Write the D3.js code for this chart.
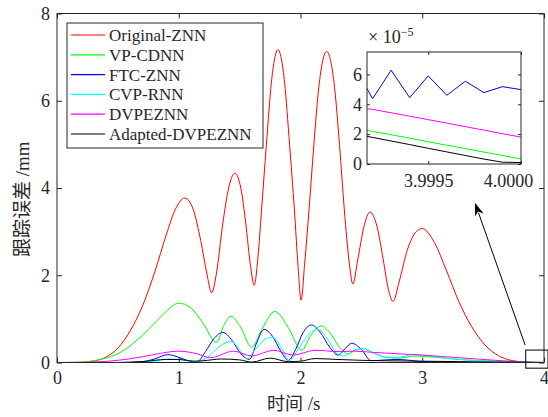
<!DOCTYPE html>
<html>
<head>
<meta charset="utf-8">
<script src="https://d3js.org/d3.v7.min.js"></script>
<style>
  body { margin: 0; background: #fff; }
  svg { display: block; }
  .tick line { stroke: #262626; }
  svg .tick text { font-family: "Liberation Serif", "DejaVu Serif", serif !important; }
</style>
</head>
<body>
<div id="chart"></div>
<script>
// ---- data ----
var names  = ["Original-ZNN", "VP-CDNN", "FTC-ZNN", "CVP-RNN", "DVPEZNN", "Adapted-DVPEZNN"];
var colors = ["#ff0000", "#00ff00", "#0000ff", "#00ffff", "#ff00ff", "#000000"];

var tRed = [0, 0.2, 0.3, 0.4, 0.5, 0.6, 0.7, 0.8, 0.9, 0.97, 1.05, 1.12, 1.18, 1.23, 1.27, 1.31, 1.36, 1.41, 1.46, 1.51, 1.55, 1.59, 1.62, 1.65, 1.68, 1.72, 1.76, 1.815, 1.87, 1.91, 1.95, 1.98, 2.005, 2.035, 2.07, 2.11, 2.15, 2.215, 2.28, 2.32, 2.36, 2.40, 2.43, 2.47, 2.52, 2.57, 2.63, 2.68, 2.72, 2.76, 2.81, 2.88, 2.95, 3.0, 3.1, 3.2, 3.3, 3.4, 3.5, 3.6, 3.7, 3.8, 3.9, 4.0];
var vRed = [0, 0, 0.03, 0.12, 0.33, 0.72, 1.28, 2.05, 2.95, 3.5, 3.77, 3.5, 2.8, 2.05, 1.6, 2.05, 3.15, 4.0, 4.34, 4.0, 3.2, 2.2, 1.77, 2.4, 3.5, 5.0, 6.4, 7.17, 6.4, 5.0, 3.5, 2.2, 1.43, 2.3, 3.5, 5.0, 6.3, 7.13, 6.3, 5.0, 3.5, 2.3, 1.8, 2.35, 3.1, 3.45, 3.1, 2.35, 1.7, 1.4, 1.85, 2.6, 3.0, 3.07, 2.75, 2.1, 1.4, 0.85, 0.45, 0.2, 0.07, 0.02, 0, 0];

var tGreen = [0, 0.2, 0.3, 0.4, 0.5, 0.6, 0.7, 0.8, 0.9, 1.0, 1.1, 1.2, 1.31, 1.37, 1.43, 1.5, 1.6, 1.68, 1.79, 1.9, 2.01, 2.08, 2.17, 2.25, 2.32, 2.39, 2.45, 2.51, 2.6, 2.7, 2.8, 2.95, 3.1, 3.3, 3.5, 3.7, 3.9, 4.0];
var vGreen = [0, 0.01, 0.04, 0.1, 0.2, 0.38, 0.62, 0.9, 1.18, 1.36, 1.25, 0.9, 0.46, 0.85, 1.06, 0.85, 0.35, 0.75, 1.17, 0.8, 0.28, 0.6, 0.84, 0.65, 0.35, 0.2, 0.28, 0.32, 0.22, 0.12, 0.1, 0.15, 0.12, 0.07, 0.04, 0.02, 0.01, 0];

var tBlue = [0, 0.5, 0.7, 0.8, 0.91, 1.0, 1.08, 1.15, 1.22, 1.29, 1.36, 1.44, 1.51, 1.58, 1.64, 1.7, 1.77, 1.84, 1.9, 1.96, 2.02, 2.09, 2.16, 2.24, 2.31, 2.37, 2.42, 2.5, 2.58, 2.7, 2.8, 2.9, 3.0, 3.2, 3.5, 4.0];
var vBlue = [0, 0, 0.02, 0.08, 0.18, 0.12, 0.04, 0.02, 0.25, 0.55, 0.69, 0.5, 0.2, 0.07, 0.45, 0.76, 0.6, 0.25, 0.05, 0.3, 0.68, 0.86, 0.7, 0.35, 0.17, 0.33, 0.44, 0.3, 0.04, 0.06, 0.07, 0.05, 0.02, 0.01, 0, 0];

var tCyan = [0, 0.6, 0.8, 0.92, 1.05, 1.15, 1.25, 1.34, 1.43, 1.5, 1.56, 1.63, 1.7, 1.77, 1.84, 1.91, 1.98, 2.06, 2.14, 2.22, 2.3, 2.36, 2.44, 2.51, 2.6, 2.7, 2.8, 2.92, 3.05, 3.2, 3.4, 3.6, 3.8, 4.0];
var vCyan = [0, 0, 0.03, 0.08, 0.05, 0.02, 0.15, 0.38, 0.48, 0.3, 0.09, 0.3, 0.52, 0.58, 0.35, 0.04, 0.3, 0.62, 0.76, 0.55, 0.2, 0.15, 0.28, 0.32, 0.22, 0.12, 0.12, 0.18, 0.15, 0.1, 0.05, 0.02, 0.01, 0];

var tMagenta = [0, 0.3, 0.5, 0.7, 0.85, 1.0, 1.15, 1.26, 1.45, 1.6, 1.78, 1.94, 2.12, 2.2, 2.3, 2.45, 2.6, 2.8, 3.0, 3.2, 3.4, 3.6, 3.85, 4.0];
var vMagenta = [0, 0.01, 0.05, 0.13, 0.21, 0.26, 0.2, 0.11, 0.26, 0.15, 0.28, 0.17, 0.28, 0.27, 0.25, 0.26, 0.23, 0.2, 0.17, 0.13, 0.09, 0.05, 0.01, 0];

var tBlack = [0, 0.5, 0.7, 0.9, 1.0, 1.12, 1.2, 1.35, 1.5, 1.6, 1.75, 1.9, 2.0, 2.12, 2.3, 2.5, 2.7, 3.0, 3.3, 3.6, 4.0];
var vBlack = [0, 0, 0.02, 0.07, 0.07, 0.03, 0.04, 0.08, 0.06, 0.01, 0.1, 0.02, 0.03, 0.09, 0.07, 0.05, 0.04, 0.03, 0.02, 0.01, 0];

var xTicks = [0, 1, 2, 3, 4];
var yTicks = [0, 2, 4, 6, 8];

// inset (values in units of 1e-5)
var insetT = [3.99917, 3.9992, 3.9993, 3.9994, 3.9995, 3.9996, 3.9997, 3.9998, 3.9999, 4.0];
var insetBlue    = [5.05, 4.37, 6.28, 4.44, 5.9, 4.6, 5.54, 4.78, 5.18, 4.98];
var insetMagenta = [3.70, 3.66, 3.43, 3.20, 2.97, 2.74, 2.50, 2.27, 2.03, 1.80];
var insetGreen   = [2.25, 2.18, 1.96, 1.73, 1.49, 1.26, 1.03, 0.80, 0.57, 0.34];
var insetBlack   = [1.85, 1.78, 1.54, 1.30, 1.05, 0.81, 0.57, 0.33, 0.12, 0.10];
var insetXTicks = [3.9995, 4.0];
var insetYTicks = [0, 2, 4, 6];

// ---- chart ----
var W = 548, H = 417;
var serif = "'Liberation Serif', 'DejaVu Serif', serif";
var svg = d3.select("#chart").append("svg").attr("width", W).attr("height", H);

var x = d3.scaleLinear().domain([0, 4]).range([57, 544]);
var y = d3.scaleLinear().domain([0, 8]).range([362.5, 13.5]);

function zip(t, v) { return t.map(function(d, i) { return [d, v[i]]; }); }
var series = [zip(tRed, vRed), zip(tGreen, vGreen), zip(tBlue, vBlue),
              zip(tCyan, vCyan), zip(tMagenta, vMagenta), zip(tBlack, vBlack)];

var line = d3.line().x(function(d) { return x(d[0]); }).y(function(d) { return y(d[1]); })
  .curve(d3.curveMonotoneX);

series.forEach(function(s, i) {
  svg.append("path").datum(s).attr("d", line)
    .attr("fill", "none").attr("stroke", colors[i]).attr("stroke-width", 1);
});

// axis groups get serif labels
function styleAxis(g, size) {
  g.attr("font-family", serif).attr("font-size", size);
  g.selectAll(".tick text").attr("font-family", serif).attr("font-size", size)
    .style("font-family", serif).attr("fill", "#262626");
  g.select(".domain").remove();
}

var fs = 18;
svg.append("g").attr("transform", "translate(0," + y(0) + ")")
  .call(d3.axisBottom(x).tickValues(xTicks).tickSize(-5).tickPadding(9).tickFormat(d3.format("d")))
  .call(styleAxis, fs);
svg.append("g").attr("transform", "translate(0," + y(8) + ")")
  .call(d3.axisTop(x).tickValues(xTicks).tickSize(-5).tickFormat(""))
  .call(styleAxis, fs);
svg.append("g").attr("transform", "translate(" + x(0) + ",0)")
  .call(d3.axisLeft(y).tickValues(yTicks).tickSize(-5).tickPadding(7).tickFormat(d3.format("d")))
  .call(styleAxis, fs);
svg.append("g").attr("transform", "translate(" + x(4) + ",0)")
  .call(d3.axisRight(y).tickValues(yTicks).tickSize(-5).tickFormat(""))
  .call(styleAxis, fs);

svg.append("rect").attr("x", x(0)).attr("y", y(8))
  .attr("width", x(4) - x(0)).attr("height", y(0) - y(8))
  .attr("fill", "none").attr("stroke", "#262626").attr("stroke-width", 1);

// axis labels
svg.append("text").attr("x", 267).attr("y", 410)
  .style("font-size", "18px").attr("fill", "#262626")
  .call(function(t) {
    t.append("tspan").style("font-family", "'Noto Sans CJK SC'").text("时间");
    t.append("tspan").style("font-family", serif).style("font-size", "19px").text(" /s");
  });
svg.append("text").attr("transform", "translate(29,257) rotate(-90)")
  .style("font-size", "19px").attr("fill", "#262626")
  .call(function(t) {
    t.append("tspan").style("font-family", "'Noto Sans CJK SC'").text("跟踪误差");
    t.append("tspan").style("font-family", serif).text(" /mm");
  });

// zoom rectangle and arrow
svg.append("rect").attr("x", x(3.85)).attr("y", y(0.285))
  .attr("width", x(4.033) - x(3.85)).attr("height", y(-0.13) - y(0.285))
  .attr("fill", "none").attr("stroke", "#000").attr("stroke-width", 1);

var ax0 = x(3.845), ay0 = y(0.40), ax1 = x(3.433), ay1 = y(3.66);
var ang = Math.atan2(ay1 - ay0, ax1 - ax0);
var hl = 13, hw = 4.5;
svg.append("line").attr("x1", ax0).attr("y1", ay0)
  .attr("x2", ax1 - Math.cos(ang) * hl * 0.8).attr("y2", ay1 - Math.sin(ang) * hl * 0.8)
  .attr("stroke", "#000").attr("stroke-width", 1);
var bx = ax1 - Math.cos(ang) * hl, by = ay1 - Math.sin(ang) * hl;
svg.append("path").attr("d", "M" + ax1 + "," + ay1 +
    "L" + (bx - Math.sin(ang) * hw) + "," + (by + Math.cos(ang) * hw) +
    "L" + (ax1 - Math.cos(ang) * hl * 0.7) + "," + (ay1 - Math.sin(ang) * hl * 0.7) +
    "L" + (bx + Math.sin(ang) * hw) + "," + (by - Math.cos(ang) * hw) + "Z")
  .attr("fill", "#000");

// legend
var lg = svg.append("g");
lg.append("rect").attr("x", 67).attr("y", 23).attr("width", 196).attr("height", 125)
  .attr("fill", "#fff").attr("stroke", "#262626").attr("stroke-width", 1);
names.forEach(function(n, i) {
  var yy = 35 + i * 19.8;
  lg.append("line").attr("x1", 71).attr("x2", 105).attr("y1", yy).attr("y2", yy)
    .attr("stroke", colors[i]).attr("stroke-width", 1.2);
  lg.append("text").attr("x", 109).attr("y", yy).attr("dy", "0.35em")
    .style("font-family", serif).style("font-size", "17px")
    .attr("fill", "#262626").text(n);
});

// inset
var ix = d3.scaleLinear().domain([3.99917, 4.0]).range([367, 521]);
var iy = d3.scaleLinear().domain([0, 7.5]).range([164, 52]);
var inset = svg.append("g");
inset.append("rect").attr("x", 367).attr("y", 52).attr("width", 154).attr("height", 112)
  .attr("fill", "#fff");
var iline = d3.line().x(function(d) { return ix(d[0]); }).y(function(d) { return iy(d[1]); });
[[insetBlue, colors[2]], [insetMagenta, colors[4]], [insetGreen, colors[1]], [insetBlack, colors[5]]]
  .forEach(function(p) {
    inset.append("path").datum(zip(insetT, p[0])).attr("d", iline)
      .attr("fill", "none").attr("stroke", p[1]).attr("stroke-width", 1);
  });
var igx = inset.append("g").attr("transform", "translate(0,164)")
  .call(d3.axisBottom(ix).tickValues(insetXTicks).tickSize(-3).tickPadding(10).tickFormat(d3.format(".4f")))
  .call(styleAxis, fs);
igx.selectAll(".tick text").filter(function(d) { return d === 4.0; }).attr("dx", -13);
inset.append("g").attr("transform", "translate(0,52)")
  .call(d3.axisTop(ix).tickValues(insetXTicks).tickSize(-3).tickFormat(""))
  .call(styleAxis, fs);
inset.append("g").attr("transform", "translate(367,0)")
  .call(d3.axisLeft(iy).tickValues(insetYTicks).tickSize(-3).tickPadding(5).tickFormat(d3.format("d")))
  .call(styleAxis, fs);
inset.append("g").attr("transform", "translate(521,0)")
  .call(d3.axisRight(iy).tickValues(insetYTicks).tickSize(-3).tickFormat(""))
  .call(styleAxis, fs);
inset.append("rect").attr("x", 367).attr("y", 52).attr("width", 154).attr("height", 112)
  .attr("fill", "none").attr("stroke", "#262626").attr("stroke-width", 1);
inset.append("text").attr("x", 368).attr("y", 43)
  .style("font-family", serif).style("font-size", "18px").attr("fill", "#262626")
  .call(function(t) {
    t.append("tspan").text("× 10");
    t.append("tspan").attr("dy", -7).style("font-size", "12px").text("−5");
  });
</script>
</body>
</html>
